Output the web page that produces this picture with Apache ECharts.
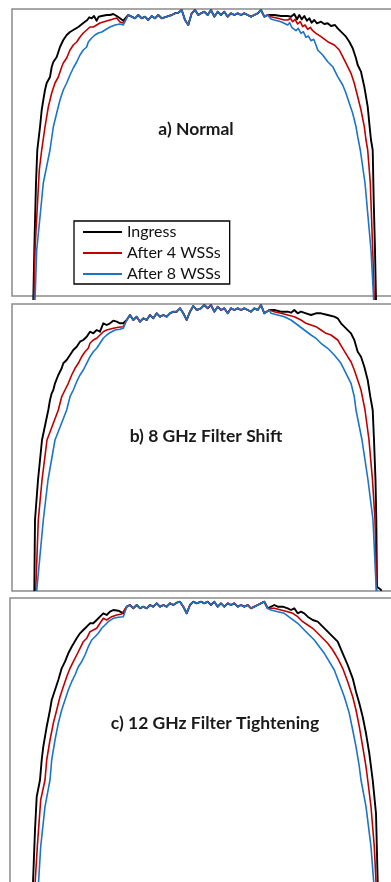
<!DOCTYPE html>
<html>
<head>
<meta charset="utf-8">
<script src="https://cdn.jsdelivr.net/npm/echarts@6/dist/echarts.min.js"></script>
<style>
  html, body { margin: 0; padding: 0; background: #fff; }
  #chart { width: 391px; height: 882px; }
</style>
</head>
<body>
<div id="chart"></div>
<script>
// Optical spectra [frequency offset (GHz), relative power (dB)]

// ---- a) Normal ----
const normalTop = [
  [-15.9,-1.27],[-15.24,-0.6],[-14.56,-0.77],[-13.9,-0.93],[-13.24,-0.6],[-12.56,-0.93],[-11.9,-0.77],
  [-11.24,-1.1],[-10.56,-0.7],[-9.9,-0.93],[-9.24,-0.6],[-8.56,-0.93],[-7.56,-0.77],[-6.56,-0.6],
  [-5.9,-0.43],[-5.24,-0.37],[-4.56,-0.1],[-3.9,-1.1],[-3.24,-1.6],[-2.56,-0.43],[-1.9,-0.1],
  [-1.24,-0.6],[-0.7,-0.43],[-0.04,-0.27],[0.64,-0.6],[1.3,-0.1],[1.96,-0.77],[2.64,-0.27],
  [3.3,-0.6],[3.96,-0.27],[4.64,-0.77],[5.3,-0.43],[5.96,-0.6],[6.64,-0.43],[7.3,-0.6],
  [7.96,-0.43],[8.64,-0.6],[9.3,-0.77],[9.96,-0.6],[10.64,-0.43],[11.3,-0.1],[11.96,-0.77],[12.64,-0.6]
];
const normalIngressLeft = [
  [-34.24,-29.1],[-34.04,-24.1],[-33.7,-17.4],[-33.44,-14.1],[-32.9,-11.8],[-32.56,-10.1],[-32.24,-9.1],
  [-31.9,-8.1],[-31.56,-7.4],[-30.9,-6.8],[-30.56,-5.8],[-30.24,-5.3],[-29.56,-4.8],[-28.9,-3.8],
  [-28.24,-3.1],[-27.56,-2.6],[-26.9,-2.3],[-26.24,-2.1],[-25.24,-1.8],[-24.24,-1.4],[-23.44,-1.1],
  [-23.04,-0.83],[-22.56,-0.93],[-22.1,-0.7],[-21.56,-1.17],[-21.16,-0.77],[-20.56,-0.7],[-20.24,-0.5],
  [-19.56,-0.6],[-18.9,-0.6],[-18.24,-0.5],[-17.56,-0.7],[-16.9,-0.93],[-16.24,-1.17]
];
const normalIngressRight = [
  [12.96,-0.6],[13.96,-0.6],[15.3,-0.7],[16.64,-0.7],[17.3,-0.77],[17.96,-0.5],[18.5,-1.03],
  [18.96,-0.6],[19.44,-1.03],[19.96,-0.7],[20.5,-1.17],[20.96,-0.93],[21.44,-1.37],[21.96,-1.1],
  [22.5,-1.43],[23.3,-1.27],[23.96,-1.5],[24.64,-1.43],[25.3,-1.7],[26.1,-1.6],[26.64,-1.93],
  [26.96,-2.1],[27.64,-2.43],[28.3,-2.77],[28.96,-3.27],[29.64,-3.93],[29.96,-4.1],[30.3,-4.93],
  [30.64,-5.6],[31.3,-6.27],[31.96,-7.77],[32.64,-9.77],[32.96,-11.43],[33.3,-13.1],[33.64,-14.1],
  [33.84,-19.1],[34.1,-24.1],[34.3,-29.1]
];
const normal4Left = [
  [-34.1,-29.1],[-33.9,-24.1],[-33.04,-16.1],[-32.56,-14.1],[-31.9,-11.8],[-31.24,-9.8],[-30.56,-8.4],
  [-29.9,-7.4],[-29.24,-6.8],[-28.56,-5.8],[-28.24,-5.4],[-27.56,-4.9],[-26.9,-4.1],[-26.24,-3.6],
  [-25.56,-3.3],[-24.9,-2.8],[-24.24,-2.4],[-23.56,-2.1],[-23.24,-2.3],[-22.9,-1.8],[-22.24,-1.8],
  [-21.56,-1.6],[-20.9,-1.4],[-20.24,-1.3],[-18.9,-1.1],[-17.56,-0.9],[-16.9,-1.3],[-16.24,-1.4]
];
const normal4Right = [
  [13.3,-0.77],[14.64,-0.93],[15.96,-1.1],[16.64,-1.1],[17.16,-0.93],[17.64,-1.27],[18.1,-1.03],
  [18.64,-1.5],[19.16,-1.27],[19.64,-1.77],[20.1,-1.6],[20.64,-2.03],[21.16,-1.83],[21.64,-2.17],
  [22.3,-2.43],[23.3,-2.77],[24.64,-3.27],[25.96,-3.6],[26.96,-4.1],[27.64,-4.77],[28.64,-5.77],
  [29.3,-6.43],[29.96,-7.43],[30.64,-8.77],[31.3,-10.1],[31.96,-11.77],[32.3,-13.1],[32.64,-14.1],
  [33.16,-17.4],[33.64,-24.1],[33.96,-29.1]
];
const normal8Left = [
  [-33.9,-29.1],[-33.56,-24.1],[-32.9,-20.8],[-32.24,-17.4],[-30.9,-14.1],[-30.24,-11.8],[-29.56,-10.4],
  [-28.9,-9.1],[-28.24,-8.1],[-27.56,-7.4],[-26.9,-6.6],[-26.24,-5.9],[-25.56,-5.3],[-24.9,-4.6],
  [-24.24,-4.1],[-23.56,-3.8],[-23.24,-3.3],[-22.56,-2.9],[-21.9,-2.6],[-21.24,-2.4],[-20.56,-2.3],
  [-19.9,-2.1],[-18.9,-1.8],[-17.9,-1.6],[-16.9,-1.5],[-16.24,-1.6]
];
const normal8Right = [
  [13.3,-1.0],[13.96,-1.1],[15.3,-1.27],[16.64,-1.6],[17.04,-1.37],[17.44,-1.83],[17.84,-1.63],
  [18.3,-2.17],[18.76,-1.93],[19.3,-2.43],[19.76,-2.27],[20.3,-2.83],[20.76,-2.7],[21.3,-3.17],
  [21.84,-3.03],[22.3,-3.6],[22.64,-4.1],[23.64,-4.6],[24.64,-5.27],[25.64,-5.77],[26.64,-6.77],
  [27.64,-7.6],[28.3,-8.43],[28.96,-9.43],[29.64,-10.43],[30.3,-11.77],[30.64,-12.77],[31.16,-14.1],
  [32.1,-17.4],[33.3,-24.1],[33.84,-29.1]
];

// ---- b) 8 GHz Filter Shift ----
const shiftTop = [
  [-15.56,-1.6],[-14.9,-1.1],[-14.24,-1.6],[-13.56,-1.27],[-12.9,-1.77],[-12.24,-1.43],[-11.56,-1.6],
  [-10.9,-1.1],[-10.24,-1.43],[-9.56,-0.93],[-8.9,-1.27],[-8.24,-1.1],[-7.56,-1.27],[-6.9,-0.93],
  [-6.24,-0.77],[-5.56,-0.77],[-4.9,-0.43],[-4.24,-0.93],[-3.56,-1.6],[-2.9,-0.77],[-2.24,-0.2],
  [-1.56,-0.6],[-0.7,-0.43],[-0.04,-0.1],[0.64,-0.43],[1.3,-0.1],[1.96,-0.77],[2.64,-0.27],
  [3.3,-0.6],[3.96,-0.43],[4.64,-0.93],[5.3,-0.43],[5.96,-0.6],[6.64,-0.43],[7.3,-0.6],
  [7.96,-0.43],[8.64,-0.6],[9.3,-0.77],[9.96,-0.43],[10.64,-0.6],[11.3,-0.1],[11.96,-0.93],[12.96,-0.6]
];
const shiftIngressLeft = [
  [-34.04,-28.7],[-33.9,-21.6],[-33.3,-17.6],[-32.5,-13.6],[-31.24,-10.6],[-30.9,-9.6],[-30.56,-8.93],
  [-30.24,-8.6],[-29.9,-7.93],[-29.24,-7.1],[-28.56,-6.43],[-28.24,-5.93],[-27.56,-5.6],[-26.9,-5.1],
  [-26.24,-4.6],[-25.56,-4.27],[-24.9,-3.77],[-24.24,-3.6],[-23.56,-3.27],[-22.9,-2.77],[-22.24,-2.93],
  [-21.56,-2.6],[-20.9,-2.77],[-20.24,-1.93],[-19.56,-2.1],[-18.9,-1.93],[-18.24,-1.67],[-17.56,-1.77],
  [-16.9,-1.93],[-16.24,-1.93]
];
const shiftIngressRight = [
  [13.96,-0.6],[15.3,-0.77],[16.64,-0.77],[17.3,-0.87],[17.96,-0.6],[18.64,-0.93],[19.3,-0.77],
  [20.3,-0.93],[21.3,-1.1],[22.3,-0.93],[23.3,-0.93],[24.64,-1.1],[25.96,-1.27],[26.64,-1.43],
  [27.3,-1.93],[28.3,-2.43],[29.3,-2.93],[29.96,-3.6],[30.64,-4.77],[31.3,-5.27],[31.96,-6.27],
  [32.64,-7.6],[33.16,-9.27],[33.64,-10.6],[33.9,-13.6],[34.2,-17.6],[34.36,-21.6],[34.5,-28.27],
  [34.76,-28.37],[35.1,-28.5],[35.44,-28.67]
];
const shift4Left = [
  [-33.76,-28.7],[-33.24,-21.6],[-32.5,-17.6],[-31.5,-13.6],[-29.24,-10.6],[-28.56,-9.27],[-27.9,-8.6],
  [-27.24,-7.93],[-26.56,-7.1],[-25.9,-6.43],[-25.24,-5.93],[-24.56,-5.27],[-23.9,-4.77],[-23.24,-4.43],
  [-22.9,-3.93],[-22.24,-3.6],[-21.56,-3.43],[-20.9,-3.1],[-20.24,-2.77],[-19.56,-2.6],[-18.24,-2.43],
  [-17.24,-2.33],[-16.24,-2.27]
];
const shift4Right = [
  [13.96,-0.77],[15.3,-0.93],[16.64,-1.1],[17.96,-1.27],[19.3,-1.6],[20.3,-1.93],[21.3,-2.1],
  [22.3,-2.27],[23.3,-2.6],[24.3,-2.93],[25.3,-3.1],[26.64,-3.6],[27.64,-4.43],[28.64,-5.27],
  [29.3,-5.77],[29.96,-6.6],[30.64,-7.6],[31.3,-8.6],[31.84,-9.93],[32.1,-10.6],[32.9,-13.6],
  [33.6,-17.6],[34.1,-21.6],[34.44,-28.7]
];
const shift8Left = [
  [-33.56,-28.7],[-32.24,-21.6],[-31.3,-17.6],[-29.9,-13.6],[-27.56,-10.6],[-26.9,-9.27],[-26.24,-8.6],
  [-25.56,-7.77],[-24.9,-7.1],[-24.24,-6.6],[-23.56,-5.93],[-22.9,-5.27],[-22.24,-4.77],[-21.56,-4.43],
  [-20.9,-3.93],[-20.24,-3.43],[-19.56,-3.1],[-18.9,-2.87],[-17.9,-2.6],[-16.9,-2.53],[-16.24,-2.43]
];
const shift8Right = [
  [13.3,-0.93],[14.64,-1.1],[15.96,-1.27],[17.3,-1.6],[18.64,-2.1],[19.96,-2.6],[21.3,-3.1],
  [22.3,-3.43],[23.3,-3.93],[24.64,-4.43],[25.96,-5.1],[27.3,-5.93],[28.3,-6.93],[29.3,-7.93],
  [29.96,-9.27],[30.3,-10.6],[31.5,-13.6],[32.7,-17.6],[33.7,-21.6],[34.36,-28.7]
];

// ---- c) 12 GHz Filter Tightening ----
const tightTop = [
  [-15.16,-0.87],[-14.5,-0.7],[-13.84,-1.03],[-13.16,-0.7],[-12.5,-1.03],[-11.84,-0.87],[-11.16,-1.03],
  [-10.5,-0.7],[-9.84,-0.87],[-9.16,-0.53],[-8.5,-0.87],[-7.84,-0.7],[-7.16,-0.87],[-6.5,-0.53],
  [-5.84,-0.7],[-5.16,-0.47],[-4.5,-0.37],[-3.84,-0.87],[-3.16,-1.53],[-2.5,-0.7],[-1.84,-0.37],
  [-1.16,-0.53],[-0.3,-0.37],[0.36,-0.53],[1.04,-0.37],[1.7,-0.7],[2.36,-0.37],[3.04,-0.87],
  [3.7,-0.53],[4.36,-0.87],[5.04,-0.53],[5.7,-0.7],[6.36,-0.53],[7.04,-0.87],[7.7,-0.7],
  [8.36,-0.87],[9.04,-0.7],[9.7,-1.03],[10.36,-0.87],[11.04,-0.7],[11.7,-0.53],[12.36,-0.37],[13.04,-1.03]
];
const tightIngressLeft = [
  [-33.94,-29.0],[-33.5,-23.2],[-33.16,-19.87],[-32.5,-18.2],[-32.16,-16.2],[-31.84,-14.87],[-31.16,-12.87],
  [-30.5,-11.2],[-30.16,-10.2],[-29.5,-9.2],[-28.84,-8.2],[-28.16,-7.03],[-27.5,-6.37],[-26.84,-5.53],
  [-26.16,-4.87],[-25.16,-4.03],[-24.5,-3.53],[-23.84,-3.2],[-23.16,-2.87],[-22.5,-2.53],[-21.84,-2.53],
  [-21.16,-2.2],[-20.5,-1.87],[-19.84,-1.53],[-19.16,-1.7],[-18.5,-1.37],[-17.84,-1.2],[-16.84,-1.27],
  [-15.84,-1.53]
];
const tightIngressRight = [
  [14.36,-0.7],[15.04,-0.87],[16.04,-0.87],[17.04,-1.03],[17.7,-1.2],[18.36,-1.03],[19.04,-1.53],
  [19.7,-1.37],[20.36,-1.53],[21.04,-1.87],[22.04,-2.2],[23.04,-2.37],[24.04,-2.87],[25.04,-3.37],
  [26.04,-3.87],[27.04,-4.37],[28.04,-5.53],[29.04,-6.7],[30.04,-8.03],[30.7,-9.37],[31.36,-10.53],
  [32.04,-11.87],[32.7,-13.53],[33.36,-15.53],[34.04,-18.2],[34.7,-21.53],[35.04,-28.4],[35.1,-29.0]
];
const tight4Left = [
  [-33.54,-29.0],[-33.04,-24.87],[-32.36,-20.2],[-31.5,-18.2],[-31.16,-16.2],[-30.5,-14.2],[-29.84,-12.53],
  [-29.16,-11.2],[-28.5,-9.87],[-27.84,-8.87],[-27.16,-7.87],[-26.5,-7.03],[-25.84,-6.37],[-25.16,-5.7],
  [-24.5,-5.03],[-23.84,-4.37],[-23.16,-4.03],[-22.5,-3.37],[-21.84,-3.2],[-21.16,-3.03],[-20.5,-2.53],
  [-19.84,-2.03],[-19.16,-2.2],[-18.16,-1.87],[-17.16,-1.7],[-16.16,-1.6]
];
const tight4Right = [
  [14.36,-1.03],[15.7,-1.2],[17.04,-1.37],[18.04,-1.53],[19.04,-1.87],[20.04,-2.37],[21.04,-2.7],
  [22.04,-3.03],[23.04,-3.53],[24.04,-4.03],[25.04,-4.53],[26.04,-5.2],[27.04,-6.03],[28.04,-7.03],
  [29.04,-8.37],[30.04,-9.87],[30.7,-11.2],[31.36,-12.87],[32.04,-14.87],[32.7,-16.87],[33.04,-18.2],
  [33.7,-20.87],[34.36,-24.87],[34.7,-28.4],[34.74,-29.0]
];
const tight8Left = [
  [-32.86,-29.0],[-32.36,-24.87],[-31.5,-20.87],[-30.5,-18.2],[-30.16,-16.2],[-29.5,-14.2],[-28.84,-12.53],
  [-28.16,-11.2],[-27.5,-10.2],[-26.84,-9.2],[-26.16,-8.37],[-25.5,-7.7],[-24.84,-6.87],[-24.16,-6.37],
  [-23.5,-5.7],[-22.84,-4.87],[-22.16,-4.2],[-21.5,-3.87],[-20.84,-3.53],[-20.16,-3.03],[-19.5,-2.7],
  [-18.84,-2.37],[-17.84,-2.03],[-16.84,-1.93],[-15.84,-1.87]
];
const tight8Right = [
  [13.7,-1.2],[15.04,-1.37],[16.36,-1.53],[17.7,-2.03],[19.04,-2.53],[20.36,-3.2],[21.36,-3.7],
  [22.36,-4.2],[23.36,-4.87],[24.36,-5.53],[25.36,-6.37],[26.36,-7.2],[27.36,-8.53],[28.36,-9.87],
  [29.36,-11.53],[30.04,-13.2],[30.7,-14.87],[31.36,-16.87],[31.7,-18.2],[32.7,-20.87],[33.7,-24.87],
  [34.24,-28.4],[34.3,-29.0]
];

const seriesNames = ['Ingress', 'After 4 WSSs', 'After 8 WSSs'];
const panelTitles = ['a) Normal', 'b) 8 GHz Filter Shift', 'c) 12 GHz Filter Tightening'];

const panels = [
  { top: normalTop, curves: [[normalIngressLeft, normalIngressRight], [normal4Left, normal4Right], [normal8Left, normal8Right]] },
  { top: shiftTop,  curves: [[shiftIngressLeft, shiftIngressRight],   [shift4Left, shift4Right],   [shift8Left, shift8Right]] },
  { top: tightTop,  curves: [[tightIngressLeft, tightIngressRight],   [tight4Left, tight4Right],   [tight8Left, tight8Right]] }
];

const colors = ['#000000', '#c00000', '#1a75c8'];
const widths = [1.9, 1.6, 1.6];

const gridBoxes = [
  { left: 12, top: 9,   width: 385, height: 287 },
  { left: 12, top: 304, width: 385, height: 287 },
  { left: 10, top: 598, width: 385, height: 287 }
];
const titlePos = [[196, 129], [206, 436], [215, 723]];

const chart = echarts.init(document.getElementById('chart'), null, { renderer: 'canvas' });

const grid = gridBoxes.map(g => Object.assign({
  show: true, borderColor: '#8a8a8a', borderWidth: 1.5, backgroundColor: 'transparent',
  containLabel: false, outerBoundsMode: 'none'
}, g));
const xAxis = gridBoxes.map((g, i) => ({ type: 'value', gridIndex: i, min: -38.5, max: 38.5, show: false }));
const yAxis = gridBoxes.map((g, i) => ({ type: 'value', gridIndex: i, min: -28.7, max: 0, show: false }));

const series = [];
panels.forEach((p, pi) => {
  p.curves.forEach((c, si) => {
    series.push({
      type: 'line',
      name: seriesNames[si],
      xAxisIndex: pi,
      yAxisIndex: pi,
      data: c[0].concat(p.top, c[1]),
      showSymbol: false,
      symbol: 'none',
      clip: false,
      silent: true,
      animation: false,
      z: 2 + si,
      lineStyle: { color: colors[si], width: widths[si], join: 'round' },
      itemStyle: { color: colors[si] }
    });
  });
});

const graphic = panelTitles.map((t, i) => ({
  type: 'text',
  x: titlePos[i][0],
  y: titlePos[i][1],
  z: 10,
  style: {
    text: t,
    fill: '#1a1a1a',
    font: 'bold 17.5px Lato, "Open Sans", sans-serif',
    textAlign: 'center',
    textVerticalAlign: 'middle'
  }
}));

chart.setOption({
  animation: false,
  color: colors,
  grid, xAxis, yAxis, series, graphic,
  legend: {
    data: seriesNames,
    orient: 'vertical',
    left: 74,
    top: 221,
    padding: [3, 9, 2, 9],
    itemGap: 5,
    itemWidth: 39,
    itemHeight: 2,
    icon: 'rect',
    borderColor: '#000',
    borderWidth: 1.3,
    backgroundColor: '#fff',
    selectedMode: false,
    textStyle: { fontFamily: 'Lato, "Open Sans", sans-serif', fontSize: 16, color: '#111', lineHeight: 16 }
  }
});
</script>
</body>
</html>
